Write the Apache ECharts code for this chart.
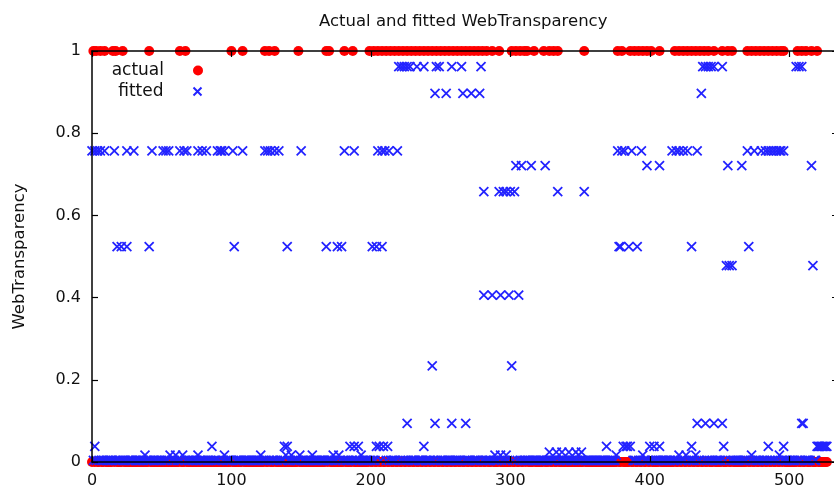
<!DOCTYPE html>
<html>
<head>
<meta charset="utf-8">
<script src="https://cdn.jsdelivr.net/npm/echarts@6/dist/echarts.min.js"></script>
<style>
  html, body { margin: 0; padding: 0; background: #fff; }
  #chart { width: 834px; height: 488px; }
</style>
</head>
<body>
<div id="chart"></div>
<script>
// observations are numbered 0 .. nObs-1
const nObs = 528;

// observations where actual WebTransparency = 1 (all others are 0)
const actualOnes = [1, 3, 6, 9, 15, 17, 22, 41, 63, 67, 100, 108, 124, 127, 131, 148, 168, 170, 181, 187,
  199, 202, 205, 208, 211, 214, 217, 220, 223, 226, 229, 232, 235, 238, 241, 244, 247, 250, 253, 256,
  259, 262, 265, 268, 271, 274, 277, 280, 283, 287, 292, 301, 304, 307, 310, 312, 317, 324, 328, 331,
  334, 353, 377, 380, 386, 389, 392, 395, 398, 401, 407, 418, 421, 424, 427, 430, 433, 436, 439, 442,
  446, 452, 456, 459, 470, 473, 476, 479, 482, 485, 488, 491, 494, 496, 506, 509, 512, 516, 520];

// fitted values that stand off the bottom band, grouped by level
const fitLevels = [0.962, 0.897, 0.757, 0.721, 0.658, 0.524, 0.478, 0.406, 0.234, 0.094, 0.038, 0.024, 0.017];
const fit0962 = [220, 222, 224, 226, 228, 233, 238, 247, 249, 258, 265, 279, 438, 440, 442, 444, 446, 452, 505, 507, 509];
const fit0897 = [246, 254, 266, 272, 278, 437];
const fit0757 = [0, 2, 4, 6, 9, 16, 25, 30, 43, 51, 53, 55, 63, 66, 68, 76, 79, 82, 90, 92, 93, 95, 101, 108,
  124, 126, 128, 131, 134, 150, 181, 188, 205, 208, 210, 213, 219, 377, 380, 382, 387, 394, 416, 419,
  421, 424, 427, 434, 470, 475, 480, 483, 485, 487, 489, 491, 493, 494, 496];
const fit0721 = [304, 308, 315, 325, 398, 407, 456, 466, 516];
const fit0658 = [281, 292, 295, 297, 300, 303, 334, 353];
const fit0524 = [18, 21, 25, 41, 102, 140, 168, 176, 179, 201, 204, 208, 378, 379, 385, 391, 430, 471];
const fit0478 = [455, 457, 459, 517];
const fit0406 = [281, 287, 293, 299, 306];
const fit0234 = [244, 301];
const fit0094 = [226, 246, 258, 268, 434, 440, 446, 452, 509, 510];
const fit0038 = [2, 86, 138, 140, 185, 188, 191, 204, 206, 209, 212, 238, 369, 381, 383, 384, 386, 400, 403,
  407, 430, 453, 485, 496, 520, 521, 522, 523, 524, 525, 526, 527];
const fit0024 = [328, 333, 337, 342, 347, 351];
const fit0017 = [38, 56, 60, 65, 76, 95, 121, 139, 143, 149, 158, 173, 177, 193, 289, 293, 297, 349, 376,
  395, 421, 426, 433, 473, 493];
const fitGroups = [fit0962, fit0897, fit0757, fit0721, fit0658, fit0524, fit0478, fit0406, fit0234,
  fit0094, fit0038, fit0024, fit0017];
// every other observation sits on the band just above zero
const fitBand = 0.004;

const xTicks = [0, 100, 200, 300, 400, 500];
const yTicks = [0, 0.2, 0.4, 0.6, 0.8, 1];

const actualData = [];
for (let i = 0; i < nObs; i++) {
  actualData.push([i, actualOnes.includes(i) ? 1 : 0]);
}
const marked = new Set();
const fittedMarks = [];
fitGroups.forEach((g, k) => {
  g.forEach(i => { marked.add(i); fittedMarks.push([i, fitLevels[k]]); });
});
const fittedData = [];
for (let i = 0; i < nObs; i++) {
  if (!marked.has(i)) fittedData.push([i, fitBand]);
}
fittedMarks.forEach(p => fittedData.push(p));

const font = 'DejaVu Sans';
const ink = '#111';
const blue = '#2323ff';
const cross = 'path://M0,0L10,10M10,0L0,10';

const axisCommon = {
  min: 0,
  z: 5,
  axisLine: { show: true, onZero: false, lineStyle: { color: '#000', width: 1.5 } },
  axisTick: { show: true, inside: true, length: 6, lineStyle: { color: '#000', width: 1.2 } },
  splitLine: { show: false }
};

const chart = echarts.init(document.getElementById('chart'));
chart.setOption({
  animation: false,
  backgroundColor: '#fff',
  textStyle: { fontFamily: font },
  title: {
    text: 'Actual and fitted WebTransparency',
    left: 314,
    top: 8,
    textStyle: { fontFamily: font, fontSize: 16.5, fontWeight: 'normal', color: ink }
  },
  legend: [
    {
      data: ['actual'], orient: 'vertical', right: 626, top: 57, align: 'right',
      itemWidth: 10, itemHeight: 10,
      textStyle: { fontFamily: font, fontSize: 17, color: ink, padding: [0, 24, 0, 0] }
    },
    {
      data: ['fitted'], orient: 'vertical', right: 625, top: 78, align: 'right',
      itemWidth: 8, itemHeight: 8,
      textStyle: { fontFamily: font, fontSize: 17, color: ink, padding: [0, 25, 0, 0] }
    }
  ],
  grid: { left: 92, right: -4, top: 51, bottom: 26, outerBoundsMode: 'none', containLabel: false },
  xAxis: [
    Object.assign({}, axisCommon, {
      type: 'value', position: 'bottom', max: 535, interval: 100,
      axisLabel: {
        margin: 11, fontSize: 16, color: ink, fontFamily: font,
        formatter: v => (xTicks.includes(v) ? String(v) : '')
      }
    }),
    Object.assign({}, axisCommon, {
      type: 'value', position: 'top', max: 535, interval: 100,
      axisLabel: { show: false }
    })
  ],
  yAxis: [
    Object.assign({}, axisCommon, {
      type: 'value', position: 'left', max: 1, interval: 0.2,
      name: 'WebTransparency', nameLocation: 'middle', nameGap: 64,
      nameTextStyle: { fontFamily: font, fontSize: 16.5, color: ink },
      axisLabel: {
        margin: 11, fontSize: 16, color: ink, fontFamily: font,
        formatter: v => String(yTicks.find(t => Math.abs(t - v) < 1e-9) ?? v)
      }
    }),
    Object.assign({}, axisCommon, {
      type: 'value', position: 'right', max: 1, interval: 0.2,
      axisLabel: { show: false }
    })
  ],
  series: [
    {
      name: 'actual',
      type: 'scatter',
      xAxisIndex: 0, yAxisIndex: 0,
      symbol: 'circle',
      symbolSize: 10,
      itemStyle: { color: '#ff0000', opacity: 1 },
      data: actualData,
      silent: true
    },
    {
      name: 'fitted',
      type: 'scatter',
      xAxisIndex: 0, yAxisIndex: 0,
      symbol: cross,
      symbolSize: 9,
      itemStyle: { color: 'none', borderColor: blue, borderWidth: 1.8, opacity: 1 },
      data: fittedData,
      silent: true
    }
  ]
});
</script>
</body>
</html>
